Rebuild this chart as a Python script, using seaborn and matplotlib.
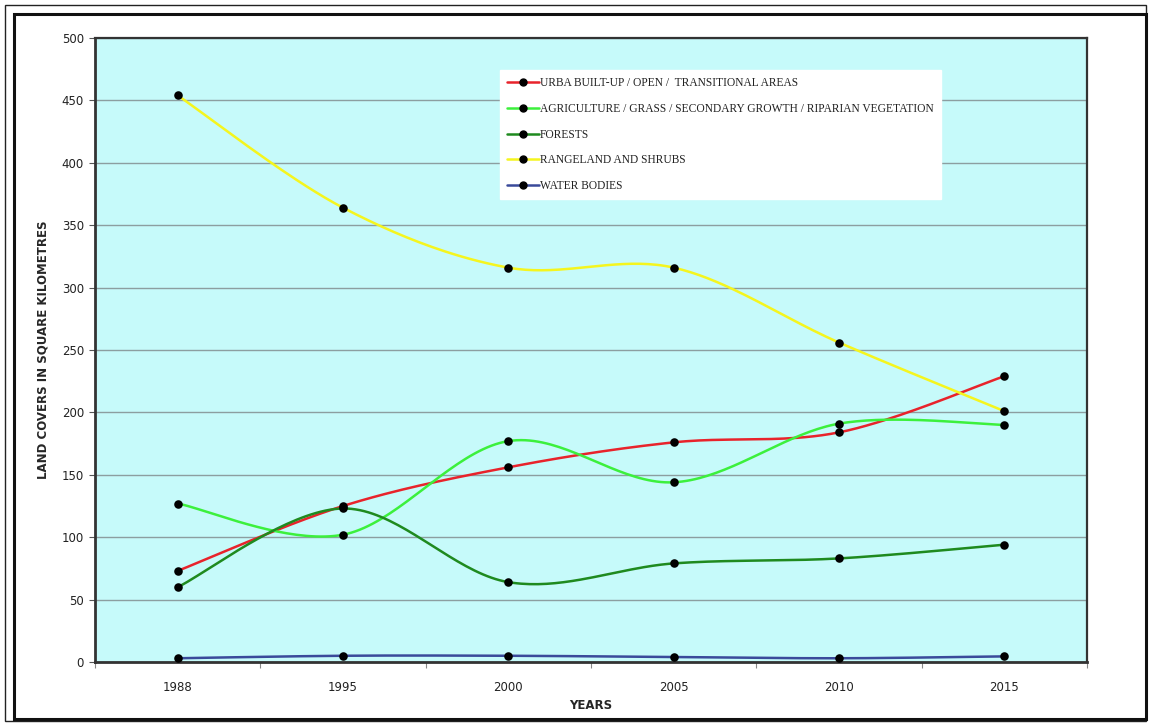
import numpy as np
import pandas as pd
import matplotlib
matplotlib.use("Agg")
import matplotlib.pyplot as plt
from matplotlib.lines import Line2D
from matplotlib.patches import Rectangle
import seaborn as sns

years = ["1988", "1995", "2000", "2005", "2010", "2015"]
urban = [73, 125, 156, 176, 184, 229]
agriculture = [127, 102, 177, 144, 191, 190]
forests = [60, 123, 64, 79, 83, 94]
rangeland = [454, 364, 316, 316, 256, 201]
water = [3, 5, 5, 4, 3, 4.5]

series_names = [
    "URBA BUILT-UP / OPEN /  TRANSITIONAL AREAS",
    "AGRICULTURE / GRASS / SECONDARY GROWTH / RIPARIAN VEGETATION",
    "FORESTS",
    "RANGELAND AND SHRUBS",
    "WATER BODIES",
]
series_values = [urban, agriculture, forests, rangeland, water]
series_colors = ["#E8232B", "#3CF03C", "#1F8A1F", "#F5F51E", "#3A4A9A"]


def smooth(xs, ys, n=40):
    """Bezier smoothing through every point (Catmull-Rom control points)."""
    p = np.column_stack([xs, ys]).astype(float)
    out = []
    m = len(p)
    for i in range(m - 1):
        p0 = p[i - 1] if i > 0 else p[i]
        p1 = p[i]
        p2 = p[i + 1]
        p3 = p[i + 2] if i + 2 < m else p[i + 1]
        c1 = p1 + (p2 - p0) / 6.0
        c2 = p2 - (p3 - p1) / 6.0
        t = np.linspace(0, 1, n)[:, None]
        seg = ((1 - t) ** 3) * p1 + 3 * ((1 - t) ** 2) * t * c1 + 3 * (1 - t) * t ** 2 * c2 + t ** 3 * p2
        out.append(seg if i == 0 else seg[1:])
    return np.vstack(out)


xpos = np.arange(len(years))
curve_rows = []
point_rows = []
for name, vals in zip(series_names, series_values):
    sm = smooth(xpos, vals)
    for k, (sx, sy) in enumerate(sm):
        curve_rows.append({"x": sx, "y": sy, "series": name, "order": k})
    for x, v in zip(xpos, vals):
        point_rows.append({"x": x, "y": v, "series": name})
curves = pd.DataFrame(curve_rows)
points = pd.DataFrame(point_rows)

sns.set_style("white")
plt.rcParams["font.family"] = ["DejaVu Sans"]

fig = plt.figure(figsize=(11.51, 7.26), dpi=100)
fig.patch.set_facecolor("white")

# double frame around the whole chart
fig.patches.append(Rectangle((5 / 1151, 1 - 721 / 726), 1141 / 1151, 716 / 726,
                             transform=fig.transFigure, fill=False,
                             edgecolor="#222222", linewidth=1.0, zorder=0))
fig.patches.append(Rectangle((14 / 1151, 1 - 719 / 726), 1132 / 1151, 705 / 726,
                             transform=fig.transFigure, fill=False,
                             edgecolor="#111111", linewidth=2.2, zorder=0))

ax = fig.add_axes([95 / 1151, 1 - 662 / 726, 992 / 1151, 624 / 726])
ax.set_facecolor("#C6FAFA")

palette = dict(zip(series_names, series_colors))
sns.lineplot(data=curves, x="x", y="y", hue="series", palette=palette,
             sort=False, estimator=None, units="series", linewidth=1.8,
             legend=False, ax=ax, zorder=3)
sns.scatterplot(data=points, x="x", y="y", color="black", s=38,
                edgecolor="black", linewidth=0, legend=False, ax=ax, zorder=4)

ax.set_xlim(-0.5, len(years) - 0.5)
ax.set_ylim(0, 500)
ax.set_yticks(np.arange(0, 501, 50))
ax.set_xticks(xpos)
ax.set_xticklabels(years)
ax.set_xticks(np.arange(-0.5, len(years), 1.0), minor=True)
ax.grid(axis="y", color="#8C9EA0", linewidth=1.0)
ax.set_axisbelow(True)

ax.tick_params(axis="y", which="major", direction="out", length=4, width=0.8,
               color="#555555", labelsize=8.5, pad=4, left=True)
ax.tick_params(axis="x", which="major", length=0, labelsize=8.5, pad=14)
ax.tick_params(axis="x", which="minor", direction="out", length=4, width=0.8,
               color="#888888", bottom=True)
for lab in ax.get_xticklabels() + ax.get_yticklabels():
    lab.set_color("#222222")

for side in ["left", "bottom", "top", "right"]:
    ax.spines[side].set_visible(True)
    ax.spines[side].set_color("#333333")
ax.spines["left"].set_linewidth(2.0)
ax.spines["bottom"].set_linewidth(2.0)
ax.spines["top"].set_linewidth(1.6)
ax.spines["right"].set_linewidth(1.6)

ax.set_xlabel("YEARS", fontsize=8.5, fontweight="bold", labelpad=3)
ax.set_ylabel("LAND COVERS IN SQUARE KILOMETRES", fontsize=8.5,
              fontweight="bold", labelpad=9)

handles = [Line2D([], [], color=c, linewidth=1.8, marker="o", markersize=5,
                  markerfacecolor="black", markeredgecolor="black")
           for c in series_colors]
leg = ax.legend(handles, series_names, loc="upper left",
                bbox_to_anchor=((500 - 95) / 992, (662 - 70) / 624),
                frameon=True, fancybox=False, framealpha=1.0,
                facecolor="white", edgecolor="white",
                prop={"family": "Liberation Serif", "size": 8.3},
                handlelength=2.7, handletextpad=0.1, labelspacing=1.18,
                borderpad=0.65, borderaxespad=0)
for t in leg.get_texts():
    t.set_color("#222222")

fig.savefig("out.png", dpi=100, facecolor="white")
